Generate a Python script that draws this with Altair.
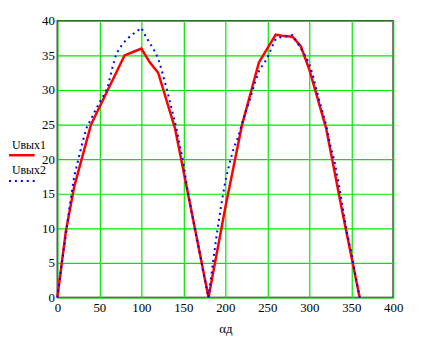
import altair as alt
import pandas as pd

# Uвых1 (red solid)
x1 = [0, 10, 20, 40, 60, 80, 90, 100, 110, 120, 140, 160, 180,
      200, 220, 240, 260, 270, 280, 290, 300, 320, 340, 360]
y1 = [0, 9.5, 16, 25, 30, 35, 35.5, 36, 34, 32.5, 24.5, 12.3, 0,
      13, 25, 34, 38, 37.8, 37.7, 36.3, 33, 24.5, 12, 0]

# Uвых2 (blue dotted)
x2 = [0, 5, 10, 15, 20, 25, 30, 35, 40, 45, 50, 55, 60, 65, 70, 75, 80, 85, 90, 95,
      100, 105, 110, 115, 120, 125, 130, 135, 140, 145, 150, 155, 160, 165, 170, 175,
      180, 185, 190, 195, 200, 205, 210, 215, 220, 225, 230, 235, 240, 245, 250, 255,
      260, 265, 270, 275, 280, 285, 290, 295, 300, 305, 310, 315, 320, 325, 330, 335,
      340, 345, 350, 355, 360]
y2 = [0, 4.7, 9, 13.5, 17.5, 20, 22.5, 24.6, 25.8, 27, 28.2, 29.2, 30.5, 33, 35.2, 36.2, 37, 37.6, 38.1, 38.5,
      39, 37.8, 36.8, 35.8, 34.6, 32.5, 30.3, 27.8, 25.4, 22.5, 19.5, 15.5, 12.3, 9.2, 6.2, 3,
      0, 4.8, 9.3, 13.3, 16.8, 19.4, 21.6, 23.1, 25.2, 27.1, 28.9, 31, 32.7, 33.7, 34.6, 36.1,
      37.4, 37.6, 37.7, 37.8, 37.95, 37, 36, 35, 33.8, 31.8, 29.3, 27.2, 25, 22, 19.7, 16.5,
      12.9, 9.3, 6.6, 3.2, 0]

x_ticks = [0, 50, 100, 150, 200, 250, 300, 350, 400]
y_ticks = [0, 5, 10, 15, 20, 25, 30, 35, 40]
legend_labels = ["Uвых1", "Uвых2"]
x_title = "αд"

FONT = "Liberation Serif"

df1 = pd.DataFrame({"x": x1, "y": y1})
df2 = pd.DataFrame({"x": x2, "y": y2})

xs = alt.Scale(domain=[0, 400], nice=False, zero=False)
ys = alt.Scale(domain=[0, 40], nice=False, zero=False)

xax = alt.Axis(values=x_ticks, title=x_title, grid=True, ticks=False, domain=False,
               labelPadding=4, titlePadding=8, format="d", labelOverlap=False,
               labelFlush=False)
yax = alt.Axis(values=y_ticks, title=None, grid=True, ticks=False, domain=False,
               labelPadding=3, format="d", labelOverlap=False, labelFlush=False,
               tickCount=9)

red = alt.Chart(df1).mark_line(color="#ff0000", strokeWidth=2.5).encode(
    x=alt.X("x:Q", scale=xs, axis=xax),
    y=alt.Y("y:Q", scale=ys, axis=yax),
)

blue = alt.Chart(df2).mark_line(color="#0000ff", strokeWidth=2, strokeDash=[2, 4]).encode(
    x=alt.X("x:Q", scale=xs, axis=xax),
    y=alt.Y("y:Q", scale=ys, axis=yax),
)

leg1_text = alt.Chart(pd.DataFrame({"t": [legend_labels[0]]})).mark_text(
    font=FONT, fontSize=12, align="left", baseline="middle", color="black"
).encode(x=alt.value(-46), y=alt.value(126), text="t:N")

leg1_line = alt.Chart(pd.DataFrame({"t": [legend_labels[0]]})).mark_rule(
    color="#ff0000", strokeWidth=2.5
).encode(x=alt.value(-49), x2=alt.value(-23), y=alt.value(136))

leg2_text = alt.Chart(pd.DataFrame({"t": [legend_labels[1]]})).mark_text(
    font=FONT, fontSize=12, align="left", baseline="middle", color="black"
).encode(x=alt.value(-46), y=alt.value(151), text="t:N")

leg2_line = alt.Chart(pd.DataFrame({"t": [legend_labels[1]]})).mark_rule(
    color="#0000ff", strokeWidth=2, strokeDash=[2, 4]
).encode(x=alt.value(-49), x2=alt.value(-23), y=alt.value(162))

chart = alt.layer(red, blue, leg1_text, leg1_line, leg2_text, leg2_line).properties(
    width=340, height=280,
    autosize=alt.AutoSizeParams(type="none"),
    padding={"left": 50, "top": 11, "right": 20, "bottom": 40},
).configure_view(
    stroke="black", strokeWidth=1.5
).configure_axis(
    gridColor="#00e600", gridWidth=1.2, gridOpacity=1,
    labelFont=FONT, labelFontSize=13, labelColor="black",
    titleFont=FONT, titleFontSize=13, titleFontWeight="normal", titleColor="black",
)

chart.save("out.html", embed_options={"renderer": "svg", "actions": False})
